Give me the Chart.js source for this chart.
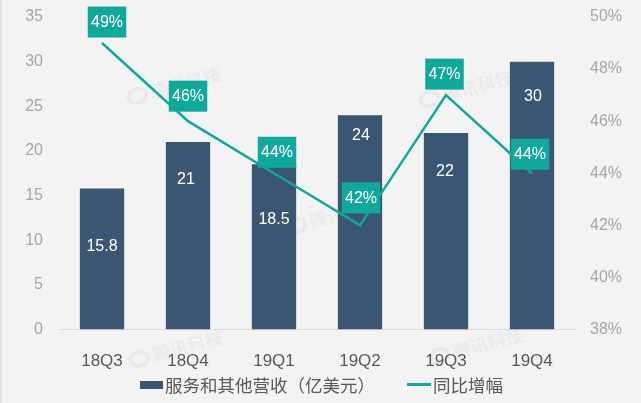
<!DOCTYPE html>
<html>
<head>
<meta charset="utf-8">
<style>
    html, body { margin: 0; padding: 0; background: #f3f3f3; }
    #wrap { position: relative; width: 641px; height: 403px; }
    canvas { display: block; }
</style>
<script src="https://cdn.jsdelivr.net/npm/chart.js@4"></script>
</head>
<body>
<div id="wrap"><canvas id="chart" width="641" height="403"></canvas></div>
<script>
const categories = ['18Q3', '18Q4', '19Q1', '19Q2', '19Q3', '19Q4'];
const revenue = [15.8, 21, 18.5, 24, 22, 30];
const growth = [49, 46, 44, 42, 47, 44];
const revenueName = '服务和其他营收（亿美元）';
const growthName = '同比增幅';
const watermarkText = '腾讯科技';

// label placement relative to the mark
const revenueLabelX = [0, -2, 0, 1, -1, 1];
const revenueLabelY = [58, 38, 55, 20, 39, 35];
const growthBoxX = [5, 0, 3, 1, -1.5, -2];
const growthBoxY = [-21, -25, -21, -27.5, -21, -19];
const watermarks = [[178, 85], [180, 348], [470, 88], [480, 345], [337, 215]];

const TEAL = '#11a89c';
const NAVY = '#3b5672';
const SANS = '"Liberation Sans", Arial, sans-serif';
const CJK = '"Noto Sans CJK SC", sans-serif';

const backdrop = {
    id: 'backdrop',
    beforeDatasetsDraw(chart) {
        const ctx = chart.ctx;
        ctx.save();
        ctx.fillStyle = '#dedede';
        ctx.fillRect(0, 0, 1.5, chart.height);
        watermarks.forEach(([x, y]) => {
            ctx.save();
            ctx.translate(x, y);
            ctx.rotate(-15 * Math.PI / 180);
            ctx.fillStyle = 'rgba(0,0,0,0.035)';
            ctx.font = 'bold 18px ' + CJK;
            ctx.textAlign = 'center';
            ctx.textBaseline = 'middle';
            ctx.fillText(watermarkText, 8, 0);
            ctx.beginPath();
            ctx.ellipse(-42, 0, 9, 7, 0, 0, Math.PI * 2);
            ctx.lineWidth = 4;
            ctx.strokeStyle = 'rgba(0,0,0,0.035)';
            ctx.stroke();
            ctx.restore();
        });
        ctx.restore();
    }
};

const valueLabels = {
    id: 'valueLabels',
    afterDatasetsDraw(chart) {
        const ctx = chart.ctx;
        const x = chart.scales.x, yL = chart.scales.y, yR = chart.scales.y1;
        ctx.save();
        ctx.textAlign = 'center';
        ctx.textBaseline = 'middle';
        ctx.font = '16px ' + SANS;
        ctx.fillStyle = '#ffffff';
        revenue.forEach((v, i) => {
            ctx.fillText(String(v), x.getPixelForValue(i) + revenueLabelX[i], yL.getPixelForValue(v) + revenueLabelY[i]);
        });
        growth.forEach((v, i) => {
            const cx = x.getPixelForValue(i) + growthBoxX[i];
            const cy = yR.getPixelForValue(v) + growthBoxY[i];
            ctx.fillStyle = TEAL;
            ctx.fillRect(cx - 19.25, cy - 15.5, 38.5, 31);
            ctx.fillStyle = '#ffffff';
            ctx.fillText(v + '%', cx, cy + 0.5);
        });
        ctx.restore();
    }
};

const bottomLegend = {
    id: 'bottomLegend',
    afterDraw(chart) {
        const ctx = chart.ctx;
        ctx.save();
        ctx.fillStyle = NAVY;
        ctx.fillRect(140, 381, 23, 8);
        ctx.fillStyle = TEAL;
        ctx.fillRect(407, 383, 24, 3);
        ctx.fillStyle = '#595959';
        ctx.font = '17.5px ' + CJK;
        ctx.textBaseline = 'middle';
        ctx.fillText(revenueName, 165, 385.5);
        ctx.fillText(growthName, 433, 385.5);
        ctx.restore();
    }
};

new Chart(document.getElementById('chart'), {
    data: {
        labels: categories,
        datasets: [
            {
                type: 'line',
                label: growthName,
                data: growth,
                yAxisID: 'y1',
                borderColor: TEAL,
                backgroundColor: TEAL,
                borderWidth: 2.5,
                pointRadius: 0,
                tension: 0,
                order: 1
            },
            {
                type: 'bar',
                label: revenueName,
                data: revenue,
                yAxisID: 'y',
                backgroundColor: NAVY,
                barPercentage: 1,
                categoryPercentage: 0.515,
                order: 2
            }
        ]
    },
    options: {
        responsive: false,
        animation: false,
        layout: { padding: { top: 17, bottom: 0, left: 0, right: 0 } },
        plugins: {
            tooltip: { enabled: false },
            legend: { display: false }
        },
        scales: {
            x: {
                grid: { display: false, drawTicks: false },
                border: { color: '#dcdcdc', width: 1 },
                ticks: { color: '#595959', padding: 22, maxRotation: 0, font: { family: SANS, size: 17 } },
                afterFit(s) { s.height = 73.5; }
            },
            // tick gap set with tickLength, ticks.padding would push the plot top down
            y: {
                position: 'left',
                min: 0,
                max: 35,
                grid: { display: false, tickLength: 16 },
                border: { display: false },
                ticks: { stepSize: 5, color: '#a6a6a6', padding: 0, font: { family: SANS, size: 16 } },
                afterFit(s) { s.width = 59; }
            },
            y1: {
                position: 'right',
                min: 38,
                max: 50,
                grid: { display: false, tickLength: 15 },
                border: { display: false },
                ticks: { stepSize: 2, color: '#a6a6a6', padding: 0, callback: v => v + '%', font: { family: SANS, size: 16 } },
                afterFit(s) { s.width = 66; }
            }
        }
    },
    plugins: [backdrop, valueLabels, bottomLegend]
});
</script>
</body>
</html>
